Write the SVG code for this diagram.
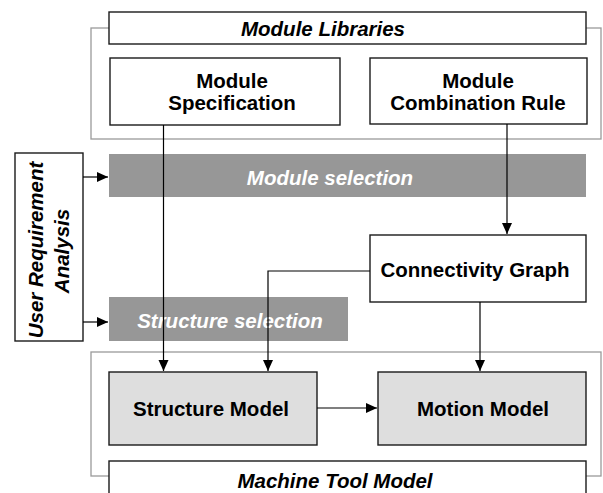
<svg xmlns="http://www.w3.org/2000/svg" width="603" height="493" viewBox="0 0 603 493">
<style>
.frame{fill:none;stroke:#9a9a9a;stroke-width:1.3}
.box{fill:#fff;stroke:#1a1a1a;stroke-width:1.4}
.model{fill:#dedede;stroke:#1a1a1a;stroke-width:1.4}
.bar{fill:#979797;stroke:none}
.t{font-family:"Liberation Sans",Arial,sans-serif;font-weight:bold;font-size:20.5px;fill:#000;text-anchor:middle}
.i{font-style:italic}
.w{fill:#fff}
.conn{fill:none;stroke:#000;stroke-width:1.2}
</style>
<defs>
<marker id="ah" markerUnits="userSpaceOnUse" markerWidth="12" markerHeight="11" refX="11" refY="5" orient="auto">
<path d="M0,0 L11,5 L0,10 z" fill="#000"/>
</marker>
</defs>
<rect width="603" height="493" fill="#fff"/>
<g id="frame-libraries"><rect class="frame" x="91" y="28" width="510" height="111"/></g>
<g id="frame-machine"><rect class="frame" x="91" y="352" width="510" height="124"/></g>
<g id="module-libraries"><rect class="box" x="109" y="12" width="477" height="32"/><text class="t i" x="323" y="36">Module Libraries</text></g>
<g id="module-specification"><rect class="box" x="110" y="58" width="230" height="67"/><text class="t" x="232" y="88">Module</text><text class="t" x="232" y="110">Specification</text></g>
<g id="module-combination-rule"><rect class="box" x="370" y="58" width="217" height="66"/><text class="t" x="478" y="88">Module</text><text class="t" x="478" y="110">Combination Rule</text></g>
<g id="module-selection"><rect class="bar" x="109" y="154" width="477" height="43"/><text class="t i w" x="330" y="185">Module selection</text></g>
<g id="structure-selection"><rect class="bar" x="109" y="297" width="239" height="44"/><text class="t i w" x="230" y="328">Structure selection</text></g>
<g id="user-requirement-analysis"><rect class="box" x="15" y="153" width="68" height="188"/><text class="t i" transform="translate(43,250) rotate(-90)">User Requirement</text><text class="t i" transform="translate(69,251) rotate(-90)">Analysis</text></g>
<g id="connectivity-graph"><rect class="box" x="370" y="235" width="216" height="67"/><text class="t" x="475" y="277">Connectivity Graph</text></g>
<g id="structure-model"><rect class="model" x="109" y="372" width="208" height="73"/><text class="t" x="211" y="416">Structure Model</text></g>
<g id="motion-model"><rect class="model" x="378" y="372" width="208" height="73"/><text class="t" x="483" y="416">Motion Model</text></g>
<g id="machine-tool-model"><rect class="box" x="109" y="461" width="477" height="45"/><text class="t i" x="335" y="488">Machine Tool Model</text></g>
<g id="connectors">
<path class="conn" d="M83,177 H108" marker-end="url(#ah)"/>
<path class="conn" d="M83,322 H108" marker-end="url(#ah)"/>
<path class="conn" d="M163.5,125 V371" marker-end="url(#ah)"/>
<path class="conn" d="M507,124 V234" marker-end="url(#ah)"/>
<path class="conn" d="M370,271 H268 V371" marker-end="url(#ah)"/>
<path class="conn" d="M480,302 V371" marker-end="url(#ah)"/>
<path class="conn" d="M317,408 H377" marker-end="url(#ah)"/>
</g>
</svg>
